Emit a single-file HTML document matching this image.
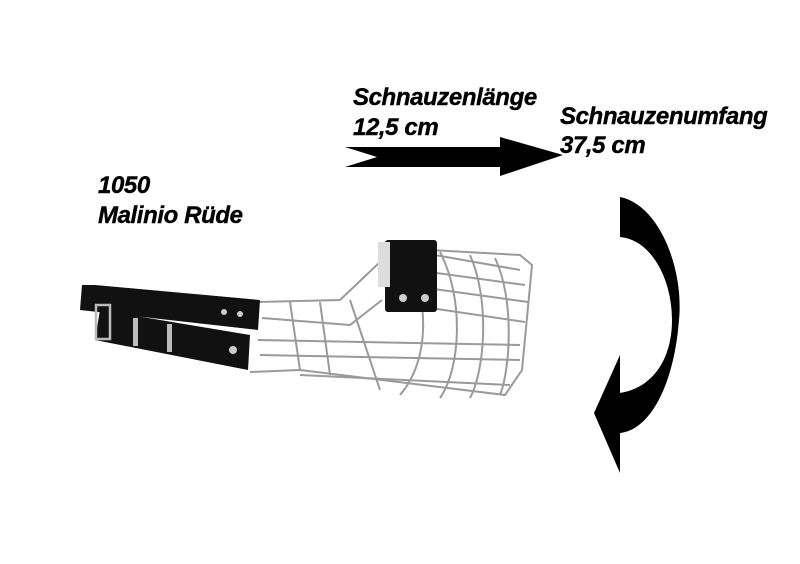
<!DOCTYPE html>
<html><head><style>
body{margin:0;background:#fff;}
svg{display:block}
text{font-family:"Liberation Sans",Arial,sans-serif;font-weight:bold;font-style:italic;font-size:24px;fill:#000;letter-spacing:-0.4px;stroke:#000;stroke-width:0.4px}
</style></head><body>
<svg width="800" height="564" viewBox="0 0 800 564">
<rect width="800" height="564" fill="#fff"/>
<text x="353" y="105">Schnauzenlänge</text>
<text x="353" y="135">12,5 cm</text>
<text x="560" y="124">Schnauzenumfang</text>
<text x="560" y="153">37,5 cm</text>
<text x="98" y="193">1050</text>
<text x="98" y="223">Malinio Rüde</text>
<path d="M345,147 L500,147 L500,137 L563,155 L500,176 L500,167 L345,167 L377,157 Z" fill="#000"/>
<path d="M620,197 C660,205 684,270 679,320 C674,385 650,430 620,433 L620,473 L594,413 L620,355 L620,393 C652,388 672,360 672,320 C672,280 652,240 620,237 Z" fill="#000"/>
<g fill="none" stroke="#9a9a9a" stroke-width="2">
<path d="M258,302 L340,300 L380,262 L395,248 L520,255 L532,265 L522,370 L505,395 L300,370 L250,372"/>
<path d="M262,318 L350,325 L382,300"/>
<path d="M258,340 L520,345"/>
<path d="M260,355 L520,360"/>
<path d="M300,375 L510,385"/>
<path d="M395,248 L520,270"/>
<path d="M400,268 L525,285"/>
<path d="M405,285 L528,302"/>
<path d="M410,305 L525,322"/>
<path d="M290,302 L300,370"/>
<path d="M320,302 L330,375"/>
<path d="M405,250 C430,300 430,360 400,395"/>
<path d="M440,252 C465,300 460,370 440,398"/>
<path d="M470,255 C490,300 485,370 470,398"/>
<path d="M495,258 C515,300 510,370 500,395"/>
<path d="M350,300 L380,390"/>
</g>
<path d="M82,285 L95,285 L260,300 L258,330 L80,310 Z" fill="#111"/>
<path d="M100,310 L250,335 L248,370 L95,340 Z" fill="#111"/>
<rect x="385" y="240" width="52" height="72" rx="3" fill="#111"/>
<rect x="378" y="242" width="12" height="45" fill="#ddd"/>
<circle cx="403" cy="298" r="4" fill="#ccc"/>
<circle cx="425" cy="298" r="4" fill="#ccc"/>
<circle cx="224" cy="312" r="3" fill="#ccc"/>
<circle cx="240" cy="314" r="3" fill="#ccc"/>
<circle cx="233" cy="350" r="4" fill="#ccc"/>
<rect x="96" y="305" width="14" height="34" fill="none" stroke="#bbb" stroke-width="2.5"/>
<rect x="133" y="318" width="5" height="28" fill="#bbb"/>
<rect x="167" y="324" width="5" height="28" fill="#bbb"/>
</svg>
</body></html>
